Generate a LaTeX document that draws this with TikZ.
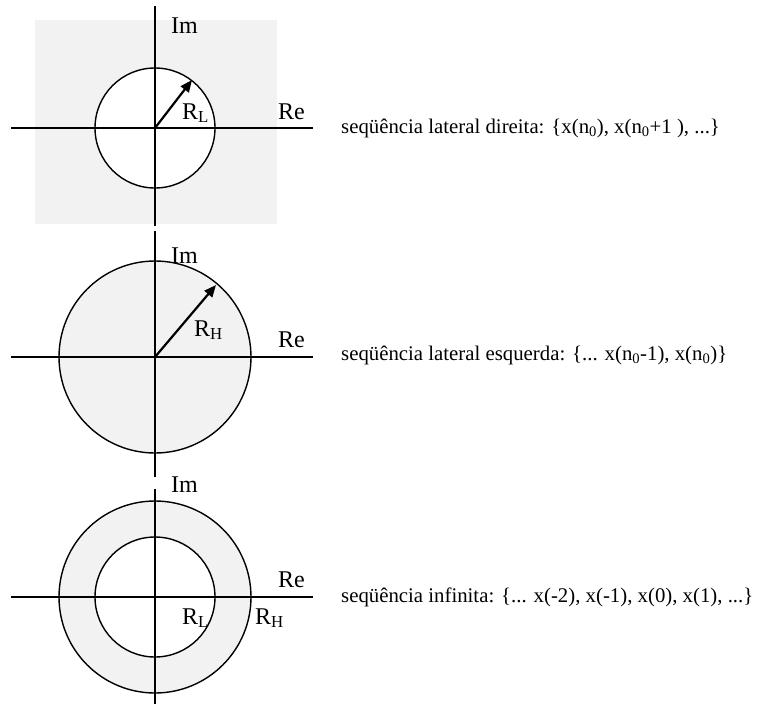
\documentclass[tikz,border=0pt]{standalone}
\usepackage{fontspec}
\setmainfont{Liberation Serif}
\usetikzlibrary{arrows.meta}
\definecolor{regiongray}{HTML}{F2F2F2}
\tikzset{
  axis/.style={line width=2pt},
  rim/.style={line width=1.4pt},
  radius arrow/.style={line width=2.2pt,-{Triangle[length=12pt,width=10pt]}},
  lbl/.style={anchor=base west,inner sep=0pt,font=\fontsize{24}{28}\selectfont},
  seqtext/.style={anchor=base west,inner sep=0pt,font=\fontsize{20.8}{25}\selectfont}
}
\begin{document}
\begin{tikzpicture}[x=1pt,y=-1pt]
\useasboundingbox (0,0) rectangle (758,704);
% ---------- panel 1 ----------
\fill[regiongray] (35,20) rectangle (277,224);
\coordinate (c1) at (155,128);
\fill[white] (c1) circle[radius=60];
\draw[rim] (c1) circle[radius=60];
\coordinate (v1t) at (155,6);
\coordinate (v1b) at (155,226);
\coordinate (h1l) at (11,128);
\coordinate (h1r) at (313,128);
\draw[axis] (v1t) -- (v1b);
\draw[axis] (h1l) -- (h1r);
\coordinate (t1) at (192,80);
\draw[radius arrow] (c1) -- (t1);
\node[lbl] (im1) at (171,33) {Im};
\node[lbl] (re1) at (278,119) {Re};
\node[lbl] (rl1) at (182,119) {R\textsubscript{L}};
\node[seqtext] (s1) at (341,133) {seqüência lateral direita: \{x(n\textsubscript{0}), x(n\textsubscript{0}+1 ), ...\}};
% ---------- panel 2 ----------
\coordinate (c2) at (155,357);
\fill[regiongray] (c2) circle[radius=96];
\draw[rim] (c2) circle[radius=96];
\coordinate (v2t) at (155,231);
\coordinate (v2b) at (155,477);
\coordinate (h2l) at (11,357);
\coordinate (h2r) at (313,357);
\draw[axis] (v2t) -- (v2b);
\draw[axis] (h2l) -- (h2r);
\coordinate (t2) at (216,285);
\draw[radius arrow] (c2) -- (t2);
\node[lbl] (im2) at (171,263) {Im};
\node[lbl] (re2) at (278,347) {Re};
\node[lbl] (rh2) at (194,336) {R\textsubscript{H}};
\node[seqtext] (s2) at (341,360) {seqüência lateral esquerda: \{... x(n\textsubscript{0}-1), x(n\textsubscript{0})\}};
% ---------- panel 3 ----------
\coordinate (c3) at (155,597);
\fill[regiongray] (c3) circle[radius=96];
\fill[white] (c3) circle[radius=60];
\draw[rim] (c3) circle[radius=96];
\draw[rim] (c3) circle[radius=60];
\coordinate (v3t) at (155,489);
\coordinate (v3b) at (155,704);
\coordinate (h3l) at (11,597);
\coordinate (h3r) at (313,597);
\draw[axis] (v3t) -- (v3b);
\draw[axis] (h3l) -- (h3r);
\node[lbl] (im3) at (171,492) {Im};
\node[lbl] (re3) at (278,587) {Re};
\node[lbl] (rl3) at (182,624) {R\textsubscript{L}};
\node[lbl] (rh3) at (255,624) {R\textsubscript{H}};
\node[seqtext] (s3) at (341,602) {seqüência infinita: \{... x(-2), x(-1), x(0), x(1), ...\}};
\end{tikzpicture}
\end{document}
